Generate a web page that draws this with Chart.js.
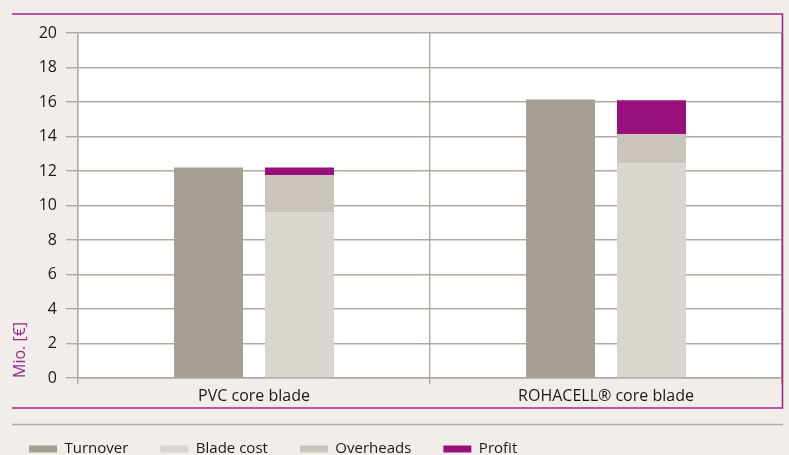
<!DOCTYPE html>
<html>
<head>
<meta charset="utf-8">
<script src="https://cdn.jsdelivr.net/npm/chart.js@4/dist/chart.umd.min.js"></script>
<style>
  html, body { margin: 0; padding: 0; background: #f1eeea; }
  #wrap { width: 789px; height: 455px; }
</style>
</head>
<body>
<div id="wrap"><canvas id="costs" width="789" height="455"></canvas></div>
<script>
// data (Mio. EUR)
const categories = ['PVC core blade', 'ROHACELL\u00AE core blade'];
const turnover   = [12.2, 16.15];
const bladeCost  = [9.6, 12.45];
const overheads  = [2.15, 1.7];
const profit     = [0.45, 1.95];
const yTicks     = [0, 2, 4, 6, 8, 10, 12, 14, 16, 18, 20];

const FONT = "'Open Sans', sans-serif";
const GRID = '#b1a9a0';
const MAGENTA = '#a1268b';

// beige page, white plot, magenta frame + grey rule above legend
const framePlugin = {
	id: 'frame',
	beforeDraw(chart) {
		const ctx = chart.ctx, a = chart.chartArea;
		ctx.save();
		ctx.fillStyle = '#f1eeea';
		ctx.fillRect(0, 0, chart.width, chart.height);
		ctx.fillStyle = '#ffffff';
		ctx.fillRect(a.left, a.top, a.right - a.left, a.bottom - a.top);
		ctx.restore();
	},
	afterDraw(chart) {
		const ctx = chart.ctx, a = chart.chartArea;
		const lg = chart.legend;
		const top = a.top - 19, bottom = lg.top - 1.5, right = a.right + 0.5, left = 12;
		ctx.save();
		ctx.strokeStyle = MAGENTA;
		ctx.lineWidth = 1.6;
		ctx.beginPath();
		ctx.moveTo(left, top);
		ctx.lineTo(right, top);
		ctx.lineTo(right, bottom);
		ctx.lineTo(left, bottom);
		ctx.stroke();
		ctx.strokeStyle = GRID;
		ctx.lineWidth = 1.3;
		ctx.beginPath();
		ctx.moveTo(left, bottom + 16.5);
		ctx.lineTo(right + 0.5, bottom + 16.5);
		ctx.stroke();
		ctx.restore();
	}
};

new Chart(document.getElementById('costs'), {
	type: 'bar',
	data: {
		labels: categories,
		datasets: [
			{ label: 'Turnover',   data: turnover,  backgroundColor: '#a79e92', stack: 'rev' },
			{ label: 'Blade cost', data: bladeCost, backgroundColor: '#d9d5cf', stack: 'cost' },
			{ label: 'Overheads',  data: overheads, backgroundColor: '#cbc4bd', stack: 'cost' },
			{ label: 'Profit',     data: profit,    backgroundColor: '#99107d', stack: 'cost' }
		]
	},
	options: {
		responsive: false,
		animation: false,
		categoryPercentage: 0.517,
		barPercentage: 0.758,
		layout: { padding: { top: 33, right: 7, left: -3, bottom: -11.5 } },
		plugins: {
			tooltip: { enabled: false },
			legend: {
				position: 'bottom',
				align: 'start',
				labels: {
					boxWidth: 28,
					boxHeight: 7,
					padding: 32,
					color: '#1a1a1a',
					font: { family: FONT, size: 15 }
				}
			}
		},
		scales: {
			x: {
				stacked: true,
				grid: { offset: true, color: GRID, lineWidth: 1.4, tickLength: 6 },
				border: { color: GRID, width: 1.4 },
				ticks: { color: '#1a1a1a', padding: 3, font: { family: FONT, size: 16 } },
				afterFit(scale) { scale.height = 31.5; }
			},
			y: {
				stacked: true,
				min: 0,
				max: 20,
				afterBuildTicks(scale) { scale.ticks = yTicks.map(v => ({ value: v })); },
				grid: { color: GRID, lineWidth: 1.4, tickLength: 12 },
				border: { color: GRID, width: 1.4 },
				ticks: { color: '#1a1a1a', padding: 9, font: { family: FONT, size: 16 } },
				title: {
					display: true,
					text: 'Mio. [\u20AC]',
					align: 'start',
					color: MAGENTA,
					padding: { top: 14, bottom: 0 },
					font: { family: FONT, size: 16 }
				},
				afterFit(scale) { scale.width = 81; }
			}
		}
	},
	plugins: [framePlugin]
});
</script>
</body>
</html>
